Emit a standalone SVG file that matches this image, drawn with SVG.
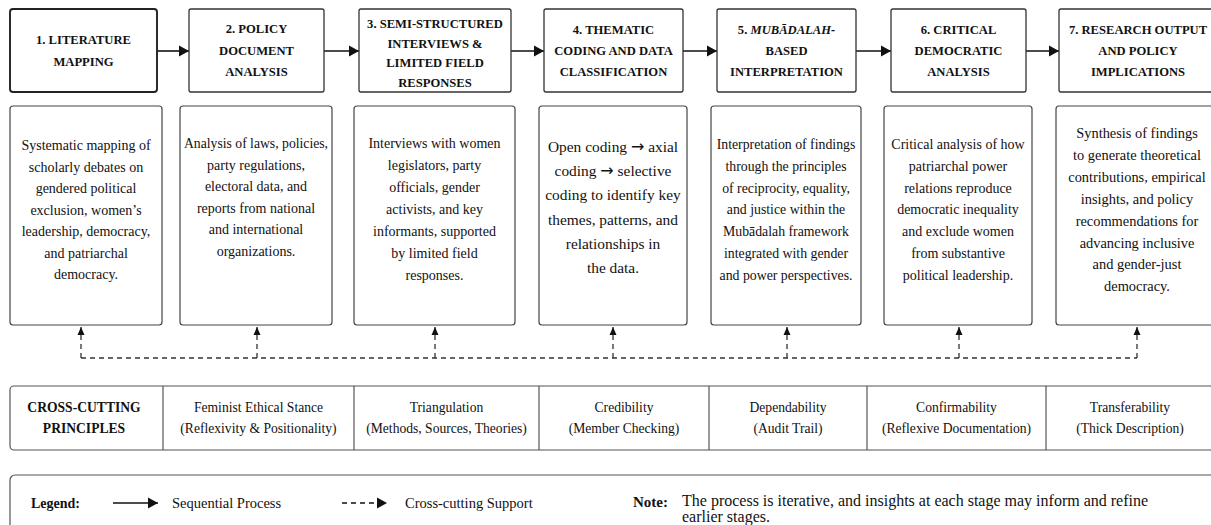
<svg xmlns="http://www.w3.org/2000/svg" width="1211" height="525" viewBox="0 0 1211 525">
<defs>
<marker id="ah" markerUnits="userSpaceOnUse" markerWidth="11" markerHeight="12" refX="10" refY="6" orient="auto"><path d="M0,0.5 L10,6 L0,11.5 Z" fill="#111"/></marker>
<marker id="au" markerUnits="userSpaceOnUse" markerWidth="9" markerHeight="8" refX="8" refY="4" orient="auto"><path d="M0,0.5 L8,4 L0,7.5 Z" fill="#111"/></marker>
</defs>
<style>
.hb{fill:#fff;stroke:#333;stroke-width:1.3}
.bb{fill:#fff;stroke:#444;stroke-width:1.2}
.ht{font-family:"Liberation Serif","DejaVu Serif",serif;font-weight:bold;font-size:12.6px;fill:#111;text-anchor:middle}
.bt{font-family:"Liberation Serif","DejaVu Serif",serif;font-size:14px;fill:#111;text-anchor:middle}
.tt{font-family:"Liberation Serif","DejaVu Serif",serif;font-size:13.6px;fill:#111;text-anchor:middle}
.tb{font-family:"Liberation Serif","DejaVu Serif",serif;font-size:13.6px;font-weight:bold;fill:#111;text-anchor:middle}
.lt{font-family:"Liberation Serif","DejaVu Serif",serif;font-size:14.5px;fill:#111}
.nt{font-family:"Liberation Serif","DejaVu Serif",serif;font-size:16px;fill:#111}
.lb{font-family:"Liberation Serif","DejaVu Serif",serif;font-size:14px;font-weight:bold;fill:#111}
.arr{font-family:"DejaVu Sans",sans-serif;font-size:16px}
.sol{stroke:#111;stroke-width:1.6;fill:none}
.dash{stroke:#333;stroke-width:1.3;fill:none;stroke-dasharray:5,4}
.grid{stroke:#555;stroke-width:1.2;fill:none}
</style>

<g id="connectors">
<line class="sol" x1="157" y1="51" x2="189" y2="51" marker-end="url(#ah)"/>
<line class="sol" x1="324" y1="51" x2="359" y2="51" marker-end="url(#ah)"/>
<line class="sol" x1="511" y1="51" x2="544" y2="51" marker-end="url(#ah)"/>
<line class="sol" x1="683" y1="51" x2="717" y2="51" marker-end="url(#ah)"/>
<line class="sol" x1="856" y1="51" x2="891" y2="51" marker-end="url(#ah)"/>
<line class="sol" x1="1026" y1="51" x2="1059" y2="51" marker-end="url(#ah)"/>
<path class="dash" d="M81,358 H1137"/>
<line class="dash" x1="81" y1="358" x2="81" y2="327" marker-end="url(#au)"/>
<line class="dash" x1="257" y1="358" x2="257" y2="327" marker-end="url(#au)"/>
<line class="dash" x1="435" y1="358" x2="435" y2="327" marker-end="url(#au)"/>
<line class="dash" x1="613" y1="358" x2="613" y2="327" marker-end="url(#au)"/>
<line class="dash" x1="787" y1="358" x2="787" y2="327" marker-end="url(#au)"/>
<line class="dash" x1="959" y1="358" x2="959" y2="327" marker-end="url(#au)"/>
<line class="dash" x1="1137" y1="358" x2="1137" y2="327" marker-end="url(#au)"/>
</g>

<g id="stage1">
<rect class="hb" x="10" y="9" width="147" height="83" rx="3" style="stroke-width:1.9;stroke:#222"/>
<text class="ht" x="83.5" y="44">1. LITERATURE</text>
<text class="ht" x="83.5" y="66">MAPPING</text>
<rect class="bb" x="10" y="106" width="152" height="219" rx="3"/>
<text class="bt" x="86" y="150">Systematic mapping of</text>
<text class="bt" x="86" y="171.5">scholarly debates on</text>
<text class="bt" x="86" y="193">gendered political</text>
<text class="bt" x="86" y="214.5">exclusion, women’s</text>
<text class="bt" x="86" y="236">leadership, democracy,</text>
<text class="bt" x="86" y="257.5">and patriarchal</text>
<text class="bt" x="86" y="279">democracy.</text>
</g>

<g id="stage2">
<rect class="hb" x="189" y="9" width="135" height="83" rx="2"/>
<text class="ht" x="256.5" y="33">2. POLICY</text>
<text class="ht" x="256.5" y="54.5">DOCUMENT</text>
<text class="ht" x="256.5" y="76">ANALYSIS</text>
<rect class="bb" x="180" y="106" width="152" height="219" rx="3"/>
<text class="bt" x="256" y="148" style="font-size:13.7px">Analysis of laws, policies,</text>
<text class="bt" x="256" y="169.5">party regulations,</text>
<text class="bt" x="256" y="191">electoral data, and</text>
<text class="bt" x="256" y="212.5">reports from national</text>
<text class="bt" x="256" y="234">and international</text>
<text class="bt" x="256" y="255.5">organizations.</text>
</g>

<g id="stage3">
<rect class="hb" x="359" y="9" width="152" height="83" rx="2"/>
<text class="ht" x="435" y="27.5">3. SEMI-STRUCTURED</text>
<text class="ht" x="435" y="47.5">INTERVIEWS &amp;</text>
<text class="ht" x="435" y="67">LIMITED FIELD</text>
<text class="ht" x="435" y="86.5">RESPONSES</text>
<rect class="bb" x="354" y="106" width="161" height="219" rx="3"/>
<text class="bt" x="434.5" y="148">Interviews with women</text>
<text class="bt" x="434.5" y="170">legislators, party</text>
<text class="bt" x="434.5" y="192">officials, gender</text>
<text class="bt" x="434.5" y="214">activists, and key</text>
<text class="bt" x="434.5" y="236">informants, supported</text>
<text class="bt" x="434.5" y="258">by limited field</text>
<text class="bt" x="434.5" y="280">responses.</text>
</g>

<g id="stage4">
<rect class="hb" x="544" y="9" width="139" height="83" rx="2"/>
<text class="ht" x="613.5" y="33.5">4. THEMATIC</text>
<text class="ht" x="613.5" y="54.5">CODING AND DATA</text>
<text class="ht" x="613.5" y="75.5">CLASSIFICATION</text>
<rect class="bb" x="539" y="106" width="148" height="219" rx="3"/>
<text class="bt" x="613" y="152" style="font-size:15.4px">Open coding <tspan class="arr">→</tspan> axial</text>
<text class="bt" x="613" y="176.2" style="font-size:15.4px">coding <tspan class="arr">→</tspan> selective</text>
<text class="bt" x="613" y="200.4" style="font-size:15.4px">coding to identify key</text>
<text class="bt" x="613" y="224.6" style="font-size:15.4px">themes, patterns, and</text>
<text class="bt" x="613" y="248.8" style="font-size:15.4px">relationships in</text>
<text class="bt" x="613" y="273" style="font-size:15.4px">the data.</text>
</g>

<g id="stage5">
<rect class="hb" x="717" y="9" width="139" height="83" rx="2"/>
<text class="ht" x="786.5" y="33.5">5. <tspan font-style="italic">MUBĀDALAH-</tspan></text>
<text class="ht" x="786.5" y="54.5">BASED</text>
<text class="ht" x="786.5" y="75.5">INTERPRETATION</text>
<rect class="bb" x="711" y="106" width="150" height="219" rx="3"/>
<text class="bt" x="786" y="149" style="font-size:13.8px">Interpretation of findings</text>
<text class="bt" x="786" y="170.8" style="font-size:13.8px">through the principles</text>
<text class="bt" x="786" y="192.6" style="font-size:13.8px">of reciprocity, equality,</text>
<text class="bt" x="786" y="214.4" style="font-size:13.8px">and justice within the</text>
<text class="bt" x="786" y="236.2" style="font-size:13.8px">Mubādalah framework</text>
<text class="bt" x="786" y="258" style="font-size:13.8px">integrated with gender</text>
<text class="bt" x="786" y="279.8" style="font-size:13.8px">and power perspectives.</text>
</g>

<g id="stage6">
<rect class="hb" x="891" y="9" width="135" height="83" rx="2"/>
<text class="ht" x="958.5" y="33.5">6. CRITICAL</text>
<text class="ht" x="958.5" y="54.5">DEMOCRATIC</text>
<text class="ht" x="958.5" y="75.5">ANALYSIS</text>
<rect class="bb" x="884" y="106" width="148" height="219" rx="3"/>
<text class="bt" x="958" y="149">Critical analysis of how</text>
<text class="bt" x="958" y="170.8">patriarchal power</text>
<text class="bt" x="958" y="192.6">relations reproduce</text>
<text class="bt" x="958" y="214.4">democratic inequality</text>
<text class="bt" x="958" y="236.2">and exclude women</text>
<text class="bt" x="958" y="258">from substantive</text>
<text class="bt" x="958" y="279.8">political leadership.</text>
</g>

<g id="stage7">
<rect class="hb" x="1059" y="9" width="158" height="83" rx="2"/>
<text class="ht" x="1138" y="33.5">7. RESEARCH OUTPUT</text>
<text class="ht" x="1138" y="54.5">AND POLICY</text>
<text class="ht" x="1138" y="75.5">IMPLICATIONS</text>
<rect class="bb" x="1056" y="106" width="162" height="219" rx="3"/>
<text class="bt" x="1137" y="138" style="font-size:14.4px">Synthesis of findings</text>
<text class="bt" x="1137" y="159.9" style="font-size:14.4px">to generate theoretical</text>
<text class="bt" x="1137" y="181.8" style="font-size:14.4px">contributions, empirical</text>
<text class="bt" x="1137" y="203.7" style="font-size:14.4px">insights, and policy</text>
<text class="bt" x="1137" y="225.6" style="font-size:14.4px">recommendations for</text>
<text class="bt" x="1137" y="247.5" style="font-size:14.4px">advancing inclusive</text>
<text class="bt" x="1137" y="269.4" style="font-size:14.4px">and gender-just</text>
<text class="bt" x="1137" y="291.3" style="font-size:14.4px">democracy.</text>
</g>

<g id="cross-cutting">
<rect class="grid" x="10" y="386" width="1206" height="64" rx="4"/>
<line class="grid" x1="163" y1="386" x2="163" y2="450"/>
<line class="grid" x1="354" y1="386" x2="354" y2="450"/>
<line class="grid" x1="539" y1="386" x2="539" y2="450"/>
<line class="grid" x1="709" y1="386" x2="709" y2="450"/>
<line class="grid" x1="867" y1="386" x2="867" y2="450"/>
<line class="grid" x1="1046" y1="386" x2="1046" y2="450"/>
<text class="tb" x="84" y="412">CROSS-CUTTING</text>
<text class="tb" x="84" y="433">PRINCIPLES</text>
<text class="tt" x="258.5" y="412">Feminist Ethical Stance</text>
<text class="tt" x="258.5" y="433">(Reflexivity &amp; Positionality)</text>
<text class="tt" x="446.5" y="412">Triangulation</text>
<text class="tt" x="446.5" y="433">(Methods, Sources, Theories)</text>
<text class="tt" x="624" y="412">Credibility</text>
<text class="tt" x="624" y="433">(Member Checking)</text>
<text class="tt" x="788" y="412">Dependability</text>
<text class="tt" x="788" y="433">(Audit Trail)</text>
<text class="tt" x="956.5" y="412">Confirmability</text>
<text class="tt" x="956.5" y="433">(Reflexive Documentation)</text>
<text class="tt" x="1130" y="412">Transferability</text>
<text class="tt" x="1130" y="433">(Thick Description)</text>
</g>

<g id="legend">
<rect class="grid" x="10" y="475" width="1206" height="70" rx="5"/>
<text class="lb" x="31" y="508">Legend:</text>
<line class="sol" x1="113" y1="503" x2="158" y2="503" marker-end="url(#ah)"/>
<text class="lt" x="172" y="508">Sequential Process</text>
<line class="dash" x1="342" y1="503" x2="387" y2="503" style="stroke-width:1.5;stroke:#111" marker-end="url(#ah)"/>
<text class="lt" x="405" y="508">Cross-cutting Support</text>
<text class="lb" x="633" y="507" style="font-size:15px">Note:</text>
<text class="nt" x="682" y="506">The process is iterative, and insights at each stage may inform and refine</text>
<text class="nt" x="682" y="522">earlier stages.</text>
</g>
</svg>
